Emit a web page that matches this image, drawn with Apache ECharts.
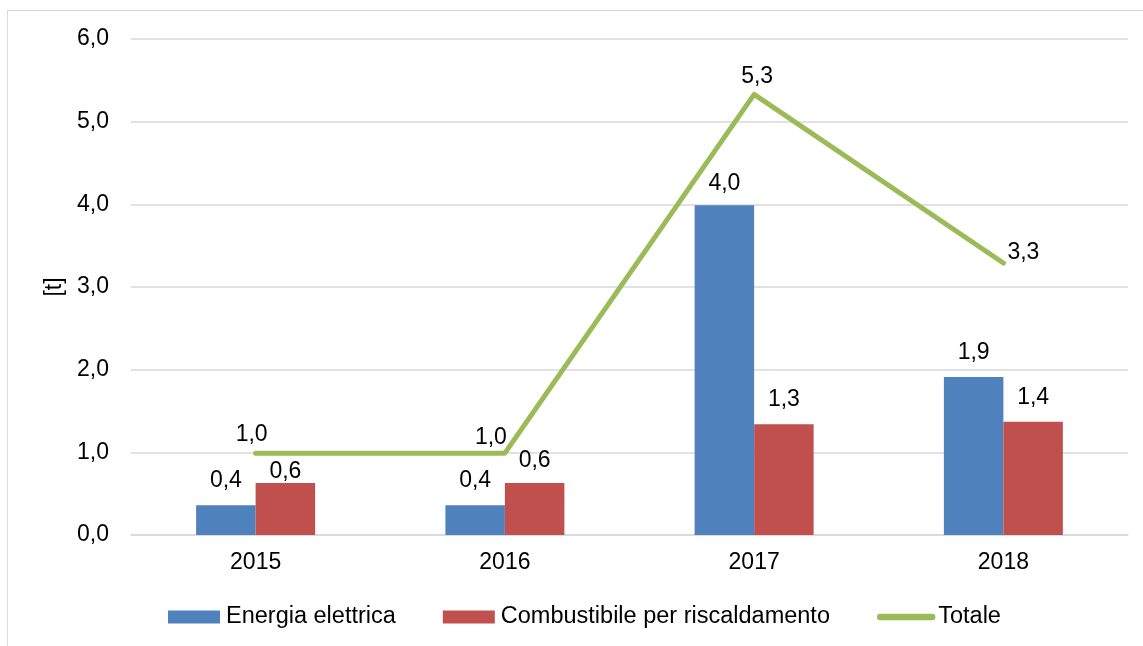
<!DOCTYPE html>
<html>
<head>
<meta charset="utf-8">
<script src="https://cdn.jsdelivr.net/npm/echarts@6/dist/echarts.min.js"></script>
<style>
html,body{margin:0;padding:0;background:#fff;width:1143px;height:646px;overflow:hidden;}
#frame{position:absolute;left:7px;top:10px;width:1160px;height:660px;border:1.5px solid #D9D9D9;box-sizing:border-box;}
#chart{position:absolute;left:0;top:0;width:1143px;height:646px;}
</style>
</head>
<body>
<div id="frame"></div>
<div id="chart"></div>
<script>
var categories = ['2015', '2016', '2017', '2018'];
var energiaElettrica = [0.36, 0.36, 3.99, 1.91];
var combustibile = [0.63, 0.63, 1.34, 1.37];
var totale = [0.99, 0.99, 5.33, 3.29];
var yTicks = [0, 1, 2, 3, 4, 5, 6];
var seriesNames = ['Energia elettrica', 'Combustibile per riscaldamento', 'Totale'];

var font = 'Liberation Sans, Arial, sans-serif';
var FS = 23;
function fmt(v) { return (Math.round(v * 10) / 10).toFixed(1).replace('.', ','); }

// manual label nudges (style only)
var lineLabelShift = [[-4, -7], [-14, -4], [3, -6], [20, 2]];
var redLabelOffsets = [[0, 13], [0, 2], [0, 0], [0, 0]];
var blueLabelOffsets = [[0, 0], [0, 0], [0, 3], [0, 0]];

var chart = echarts.init(document.getElementById('chart'));
chart.setOption({
  animation: false,
  textStyle: { fontFamily: font },
  grid: { left: 131, right: 15, top: 39, bottom: 111 },
  legend: {
    top: 605,
    left: 168,
    padding: 0,
    itemWidth: 52,
    itemHeight: 13,
    itemGap: 47,
    textStyle: { fontSize: 23.5, color: '#000', fontFamily: font, padding: [0, 0, 0, 1] },
    data: [
      { name: seriesNames[0], icon: 'rect' },
      { name: seriesNames[1], icon: 'rect' },
      { name: seriesNames[2], itemStyle: { opacity: 0 }, lineStyle: { width: 6.5, cap: 'round', color: '#9BBB59' } }
    ]
  },
  xAxis: {
    type: 'category',
    data: categories,
    axisLine: { show: true, lineStyle: { color: '#D9D9D9', width: 1.5 } },
    axisTick: { show: false },
    axisLabel: { fontSize: FS, color: '#000', margin: 16, fontFamily: font }
  },
  yAxis: {
    type: 'value',
    min: yTicks[0],
    max: yTicks[yTicks.length - 1],
    interval: 1,
    name: '[t]',
    nameLocation: 'middle',
    nameRotate: 90,
    nameGap: 63,
    nameTextStyle: { fontSize: FS, color: '#000', fontFamily: font },
    axisLine: { show: false },
    axisTick: { show: false },
    axisLabel: { fontSize: FS, color: '#000', margin: 22, formatter: function (v) { return fmt(v); } },
    splitLine: { lineStyle: { color: '#D9D9D9', width: 1.5 } }
  },
  series: [
    {
      name: seriesNames[0],
      type: 'bar',
      data: energiaElettrica.map(function (v, i) {
        return { value: v, label: { offset: blueLabelOffsets[i] } };
      }),
      barWidth: 59.5,
      barGap: '0%',
      itemStyle: { color: '#4F81BD' },
      label: { show: true, position: 'top', distance: 13, fontSize: FS, color: '#000', formatter: function (p) { return fmt(p.value); } }
    },
    {
      name: seriesNames[1],
      type: 'bar',
      data: combustibile.map(function (v, i) {
        return { value: v, label: { offset: redLabelOffsets[i] } };
      }),
      barWidth: 59.5,
      barGap: '0%',
      itemStyle: { color: '#C0504D' },
      label: { show: true, position: 'top', distance: 13, fontSize: FS, color: '#000', formatter: function (p) { return fmt(p.value); } }
    },
    {
      name: seriesNames[2],
      type: 'line',
      data: totale,
      symbol: 'circle',
      symbolSize: 1,
      showSymbol: true,
      showAllSymbol: true,
      lineStyle: { color: '#9BBB59', width: 5, cap: 'round', join: 'round' },
      itemStyle: { color: '#9BBB59' },
      label: { show: true, position: 'top', distance: 0, fontSize: FS, color: '#000', formatter: function (p) { return fmt(p.value); } },
      labelLayout: function (params) {
        var s = lineLabelShift[params.dataIndex] || [0, 0];
        return { dx: s[0], dy: s[1], hideOverlap: false };
      },
      z: 5
    }
  ]
});
</script>
</body>
</html>
